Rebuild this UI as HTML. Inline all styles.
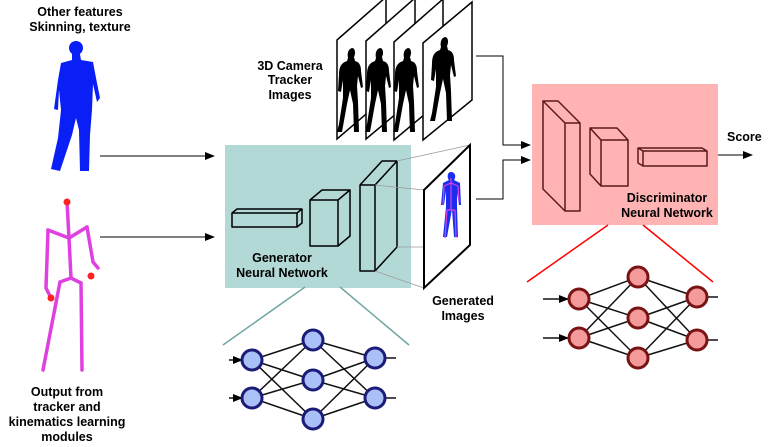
<!DOCTYPE html>
<html><head><meta charset="utf-8"><style>
html,body{margin:0;padding:0;background:#fff;}
svg{display:block;font-family:"Liberation Sans",sans-serif;font-weight:bold;}
</style></head><body>
<svg width="768" height="447" viewBox="0 0 768 447" xmlns="http://www.w3.org/2000/svg">
<defs>
<marker id="ah" markerWidth="10" markerHeight="8" refX="9" refY="4" orient="auto" markerUnits="userSpaceOnUse"><path d="M0,0 L10,4 L0,8 Z" fill="#000"/></marker>
<g id="sil"><path d="M0,0 c-5,0 -6,6 -5,10 l-1,3 c-6,2 -8,6 -8,14 l-1,16 3,1 2,-12 0,18 -4,26 -2,8 5,0 5,-28 3,-14 3,14 1,28 5,0 -1,-30 -1,-16 1,-10 3,12 2,-1 -2,-16 c0,-6 -2,-9 -6,-10 l-1,-4 c2,-4 1,-9 -2,-9 z" fill="#000"/></g>
</defs>

<text x="80" y="16" font-size="12.5" text-anchor="middle">Other features</text>
<text x="80" y="31" font-size="12.5" text-anchor="middle">Skinning, texture</text>
<!-- blue figure -->
<circle cx="76" cy="48" r="7" fill="#0a1ff5"/>
<path d="M72,54 h8 l1,6 L93,62 L96,78 L100,98 L97,102 L93,84 L92,110 L90,135 L89,171 L80,171 L79,130 L76,118 L72,135 L60,171 L51,169 L58,138 L61,110 L59,90 L58,110 L54,109 L58,80 L61,63 L72,60 Z" fill="#0a1ff5"/>
<!-- skeleton -->
<g stroke="#e040e0" stroke-width="3.5" fill="none" stroke-linecap="round">
<path d="M67,202 L69,238 L71,278"/>
<path d="M48,230 L69,238 L87,227"/>
<path d="M48,230 L46,288 L50,296"/>
<path d="M87,227 L93,262 L98,268"/>
<path d="M60,282 L71,278 L81,283"/>
<path d="M60,282 L43,370"/>
<path d="M81,283 L82,370"/>
</g>
<circle cx="67" cy="202" r="3.5" fill="#f22"/>
<circle cx="91" cy="276" r="3.5" fill="#f22"/>
<circle cx="51" cy="298" r="3.5" fill="#f22"/>
<text x="67" y="396" font-size="12.5" text-anchor="middle">Output from</text>
<text x="67" y="411" font-size="12.5" text-anchor="middle">tracker and</text>
<text x="67" y="426" font-size="12.5" text-anchor="middle">kinematics learning</text>
<text x="67" y="441" font-size="12.5" text-anchor="middle">modules</text>
<line x1="100" y1="156" x2="214" y2="156" stroke="#000" stroke-width="1" marker-end="url(#ah)"/>
<line x1="100" y1="237" x2="214" y2="237" stroke="#000" stroke-width="1" marker-end="url(#ah)"/>

<g stroke="#000" stroke-width="1.5" fill="#fff">
<polygon points="337,40 386,-3 386,97 337,139"/>
<polygon points="366,41 415,-2 415,98 366,139"/>
<polygon points="394,42 443,-1 443,99 394,140"/>
<polygon points="423,43 472,2 472,100 423,140"/>
</g>
<use href="#sil" transform="translate(353,48)"/>
<use href="#sil" transform="translate(381,48)"/>
<use href="#sil" transform="translate(409,48)"/>
<use href="#sil" transform="translate(446,37)"/>
<text x="290" y="70" font-size="12.5" text-anchor="middle">3D Camera</text>
<text x="290" y="84" font-size="12.5" text-anchor="middle">Tracker</text>
<text x="290" y="99" font-size="12.5" text-anchor="middle">Images</text>

<path d="M476,56 H503 V145 H530" fill="none" stroke="#000" stroke-width="1" marker-end="url(#ah)"/>
<path d="M476,199 H503 V160 H530" fill="none" stroke="#000" stroke-width="1" marker-end="url(#ah)"/>

<rect x="225" y="145" width="186" height="143" fill="#b3d9d7"/>
<g fill="none" stroke="#000" stroke-width="1.5" stroke-linejoin="round">
<path d="M232,213 h65 v14 h-65 z M232,213 l5,-4 h65 l-5,4 M302,209 v14 l-5,4"/>
<path d="M310,200 h28 v46 h-28 z M310,200 l12,-10 h28 l-12,10 M350,190 v46 l-12,10"/>
<path d="M360,185 h15 v86 h-15 z M360,185 l22,-24 h15 l-22,24 M397,161 v86 l-22,24"/>
</g>
<g stroke="#999" stroke-width="0.7">
<line x1="397" y1="161" x2="470" y2="145"/>
<line x1="375" y1="185" x2="424" y2="190"/>
<line x1="397" y1="247" x2="430" y2="247"/>
<line x1="375" y1="271" x2="424" y2="288"/>
</g>
<text x="282" y="262" font-size="12.5" text-anchor="middle">Generator</text>
<text x="282" y="277" font-size="12.5" text-anchor="middle">Neural Network</text>

<polygon points="424,190 470,145 470,245 424,288" fill="#fff" stroke="#000" stroke-width="2"/>
<path d="M451,172 c-4,0 -4,6 -2,8 l-6,3 -2,22 3,0 2,-14 0,16 -3,30 4,0 5,-28 2,28 4,0 -1,-30 0,-14 2,12 2,0 -1,-22 -6,-3 c2,-2 2,-8 -3,-8z" fill="#1a2ef0"/>
<path d="M451,178 v32 M444,186 l7,-3 7,3 M444,186 l-1,19 M458,186 l1,16 M447,210 h8 M447,210 l-2,28 M455,210 l1,28" stroke="#e040e0" stroke-width="1.2" fill="none"/>
<text x="463" y="305" font-size="12.5" text-anchor="middle">Generated</text>
<text x="463" y="320" font-size="12.5" text-anchor="middle">Images</text>

<rect x="532" y="84" width="186" height="141" fill="#ffb3b3"/>
<g fill="none" stroke="#5a1a1a" stroke-width="1.5" stroke-linejoin="round">
<path d="M565,123 h15 v88 h-15 z M565,123 l-22,-22 h15 l22,22 M543,101 v88 l22,22"/>
<path d="M601,140 h27 v46 h-27 z M601,140 l-11,-12 h27 l11,12 M590,128 v46 l11,12"/>
<path d="M643,151 h64 v15 h-64 z M643,151 l-5,-3 h64 l5,3 M638,148 v15 l5,3"/>
</g>
<text x="667" y="202" font-size="12.5" text-anchor="middle">Discriminator</text>
<text x="667" y="217" font-size="12.5" text-anchor="middle">Neural Network</text>
<text x="727" y="141" font-size="12.5">Score</text>
<line x1="718" y1="155" x2="752" y2="155" stroke="#000" stroke-width="1" marker-end="url(#ah)"/>

<g stroke="#6fa6a3" stroke-width="1.5">
<line x1="305" y1="287" x2="223" y2="345"/>
<line x1="340" y1="287" x2="409" y2="345"/>
</g>
<g stroke="#111" stroke-width="1.5">
<line x1="229" y1="360" x2="242" y2="360" marker-end="url(#ah)"/>
<line x1="229" y1="398" x2="242" y2="398" marker-end="url(#ah)"/>
<line x1="252" y1="360" x2="313" y2="340"/><line x1="252" y1="360" x2="313" y2="380"/><line x1="252" y1="360" x2="313" y2="419"/>
<line x1="252" y1="398" x2="313" y2="340"/><line x1="252" y1="398" x2="313" y2="380"/><line x1="252" y1="398" x2="313" y2="419"/>
<line x1="313" y1="340" x2="375" y2="358"/><line x1="313" y1="340" x2="375" y2="398"/>
<line x1="313" y1="380" x2="375" y2="358"/><line x1="313" y1="380" x2="375" y2="398"/>
<line x1="313" y1="419" x2="375" y2="358"/><line x1="313" y1="419" x2="375" y2="398"/>
<line x1="375" y1="358" x2="396" y2="358"/><line x1="375" y1="398" x2="396" y2="398"/>
</g>
<g fill="#a9c1f7" stroke="#1b1b7a" stroke-width="3">
<circle cx="252" cy="360" r="10"/><circle cx="252" cy="398" r="10"/>
<circle cx="313" cy="340" r="10"/><circle cx="313" cy="380" r="10"/><circle cx="313" cy="419" r="10"/>
<circle cx="375" cy="358" r="10"/><circle cx="375" cy="398" r="10"/>
</g>

<g stroke="#f00" stroke-width="1.5">
<line x1="608" y1="225" x2="527" y2="282"/>
<line x1="643" y1="225" x2="713" y2="282"/>
</g>
<g stroke="#111" stroke-width="1.5">
<line x1="543" y1="299" x2="568" y2="299" marker-end="url(#ah)"/>
<line x1="543" y1="338" x2="568" y2="338" marker-end="url(#ah)"/>
<line x1="579" y1="299" x2="638" y2="277"/><line x1="579" y1="299" x2="638" y2="318"/><line x1="579" y1="299" x2="638" y2="358"/>
<line x1="579" y1="338" x2="638" y2="277"/><line x1="579" y1="338" x2="638" y2="318"/><line x1="579" y1="338" x2="638" y2="358"/>
<line x1="638" y1="277" x2="697" y2="297"/><line x1="638" y1="277" x2="697" y2="340"/>
<line x1="638" y1="318" x2="697" y2="297"/><line x1="638" y1="318" x2="697" y2="340"/>
<line x1="638" y1="358" x2="697" y2="297"/><line x1="638" y1="358" x2="697" y2="340"/>
<line x1="697" y1="297" x2="718" y2="297"/><line x1="697" y1="340" x2="718" y2="340"/>
</g>
<g fill="#f49a9a" stroke="#7a1414" stroke-width="3">
<circle cx="579" cy="299" r="10"/><circle cx="579" cy="338" r="10"/>
<circle cx="638" cy="277" r="10"/><circle cx="638" cy="318" r="10"/><circle cx="638" cy="358" r="10"/>
<circle cx="697" cy="297" r="10"/><circle cx="697" cy="340" r="10"/>
</g>
</svg>
</body></html>
